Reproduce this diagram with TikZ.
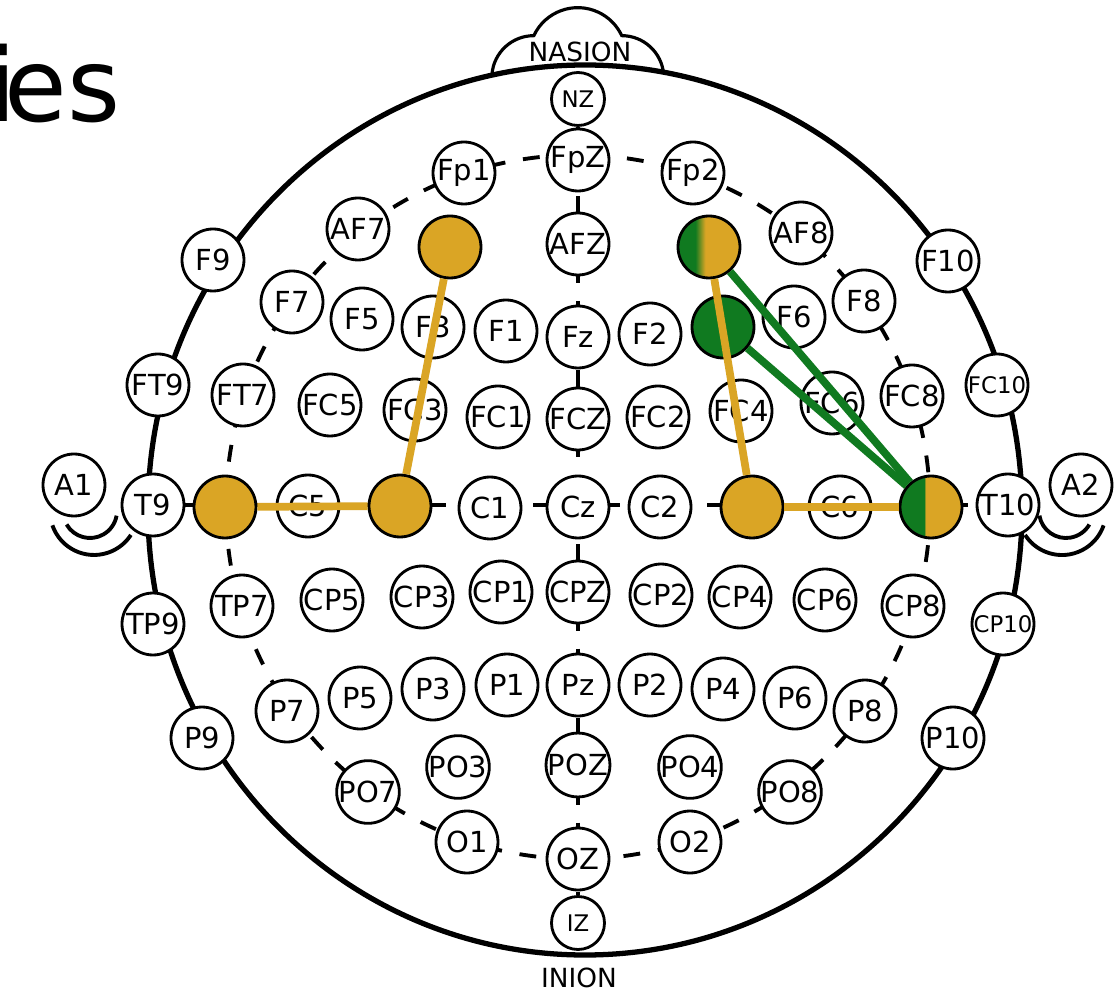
\documentclass[tikz,border=0pt]{standalone}
\usepackage{fontspec}
\setmainfont{DejaVu Sans}
\usepackage{tikz}
\usetikzlibrary{backgrounds}

\definecolor{oro}{RGB}{218,165,37}
\definecolor{verde}{RGB}{16,122,32}
% sombreados de los electrodos mixtos
\pgfdeclarehorizontalshading{verdeoro}{100bp}{color(0bp)=(verde); color(39bp)=(verde); color(47bp)=(oro); color(100bp)=(oro)}
\pgfdeclarehorizontalshading{mitad}{100bp}{color(0bp)=(verde); color(45bp)=(verde); color(45.5bp)=(oro); color(100bp)=(oro)}

\begin{document}
\begin{tikzpicture}[x=0.02cm, y=0.02cm,
	electrodo/.style={circle, draw, line width=1.6pt, fill=white, minimum size=1.24cm, inner sep=0pt, font=\fontsize{16.5}{16.5}\selectfont},
	chico/.style={electrodo, font=\fontsize{13}{13}\selectfont},
	menor/.style={chico, minimum size=1.06cm},
	activo/.style={electrodo, fill=oro},
	guia/.style={line width=2.2pt, dash pattern=on 9.6pt off 10.2pt},
	oreja/.style={line width=2.2pt},
	enlace/.style={line width=4.4pt}]
		
		% Fondo y marco
		\useasboundingbox (-578,-490) rectangle (537,507);
		\begin{scope}[on background layer]
			\fill[white] (-578,-490) rectangle (537,507);
		\end{scope}
		\node[anchor=base east, inner sep=0pt, font=\fontsize{58}{58}\selectfont] (titulo) at (-457,385) {i\kern-0.12em es};
		
		% Dibujar la cabeza
		\draw[line width=3pt] (7,-3) ellipse [x radius=437, y radius=445];
		\draw[line width=1.8pt] (-86,433) arc[start angle=175, end angle=90, radius=42]
			arc[start angle=155, end angle=25, radius=48.5] arc[start angle=90, end angle=5, radius=42];
		\node[font=\fontsize{15}{15}\selectfont] (nasion) at (2,455) {NASION};
		\node[font=\fontsize{15}{15}\selectfont] (inion) at (1,-471) {INION};
		
		% Orejas
		\draw[oreja] (-511.4,-17.5) arc[start angle=210, end angle=350, radius=27];
		\draw[oreja] (-525.6,-18.3) arc[start angle=199, end angle=327, radius=44];
		\draw[oreja] (461.4,-8.7) arc[start angle=190, end angle=330, radius=27];
		\draw[oreja] (447.1,-28) arc[start angle=213, end angle=341, radius=44];
		
		% Circulo interior
		\draw[guia] (0,0) circle [radius=352];
		
		% Electrodos
		\node[menor] (NZ) at (0,408) {NZ};
		\node[electrodo] (FpZ) at (0,347) {FpZ};
		\node[electrodo] (Fp1) at (-114,334) {Fp1};
		\node[electrodo] (Fp2) at (115,334) {Fp2};
		\node[electrodo] (AF7) at (-220,278) {AF7};
		\node[electrodo] (AF8) at (223,274) {AF8};
		\node[activo] (AF3) at (-128,260) {};
		\node[electrodo] (AFZ) at (0,263) {AFZ};
		\node[electrodo, shade, shading=verdeoro] (AF4) at (131,260) {};
		
		\node[electrodo] (F9) at (-365,247) {F9};
		\node[electrodo] (F10) at (370,246) {F10};
		\node[electrodo] (F7) at (-286,205) {F7};
		\node[electrodo] (F8) at (286,206) {F8};
		\node[electrodo] (F5) at (-216,188) {F5};
		\node[electrodo] (F3) at (-145,180) {F3};
		\node[electrodo] (F1) at (-72,176) {F1};
		\node[electrodo] (Fz) at (0,170) {Fz};
		\node[electrodo] (F2) at (72,173) {F2};
		\node[electrodo, fill=verde] (F4) at (145,180) {};
		\node[electrodo] (F6) at (216,190) {F6};
		
		\node[electrodo] (FT9) at (-420,122) {FT9};
		\node[electrodo] (FT7) at (-335,112) {FT7};
		\node[electrodo] (FC5) at (-248,102) {FC5};
		\node[electrodo] (FC3) at (-163,97) {FC3};
		\node[electrodo] (FC1) at (-80,90) {FC1};
		\node[electrodo] (FCZ) at (0,88) {FCZ};
		\node[electrodo] (FC2) at (80,90) {FC2};
		\node[electrodo] (FC4) at (163,96) {FC4};
		\node[electrodo] (FC6) at (254,104) {FC6};
		\node[electrodo] (FC8) at (334,111) {FC8};
		\node[chico] (FC10) at (419,122) {FC10};
		
		\node[electrodo] (A1) at (-504,22) {A1};
		\node[electrodo] (T9) at (-425,2) {T9};
		\node[activo] (T7) at (-353,0) {};
		\node[electrodo] (C5) at (-270,1) {C5};
		\node[activo] (C3) at (-178,1) {};
		\node[electrodo] (C1) at (-88,-1) {C1};
		\node[electrodo] (Cz) at (0,0) {Cz};
		\node[electrodo] (C2) at (82,0) {C2};
		\node[activo] (C4) at (174,0) {};
		\node[electrodo] (C6) at (262,0) {C6};
		\node[electrodo, shade, shading=mitad] (T8) at (353,0) {};
		\node[electrodo] (T10) at (430,2) {T10};
		\node[electrodo] (A2) at (503,22) {A2};
		
		\node[electrodo] (TP9) at (-425,-117) {TP9};
		\node[electrodo] (TP7) at (-336,-99) {TP7};
		\node[electrodo] (CP5) at (-246,-93) {CP5};
		\node[electrodo] (CP3) at (-156,-90) {CP3};
		\node[electrodo] (CP1) at (-77,-85) {CP1};
		\node[electrodo] (CPZ) at (0,-85) {CPZ};
		\node[electrodo] (CP2) at (83,-88) {CP2};
		\node[electrodo] (CP4) at (162,-90) {CP4};
		\node[electrodo] (CP6) at (247,-93) {CP6};
		\node[electrodo] (CP8) at (335,-99) {CP8};
		\node[chico] (CP10) at (425,-117) {CP10};
		
		\node[electrodo] (P9) at (-376,-231) {P9};
		\node[electrodo] (P7) at (-291,-204) {P7};
		\node[electrodo] (P5) at (-218,-191) {P5};
		\node[electrodo] (P3) at (-145,-182) {P3};
		\node[electrodo] (P1) at (-71,-178) {P1};
		\node[electrodo] (Pz) at (0,-178) {Pz};
		\node[electrodo] (P2) at (72,-178) {P2};
		\node[electrodo] (P4) at (145,-182) {P4};
		\node[electrodo] (P6) at (217,-191) {P6};
		\node[electrodo] (P8) at (287,-204) {P8};
		\node[electrodo] (P10) at (375,-231) {P10};
		
		\node[electrodo] (PO7) at (-210,-285) {PO7};
		\node[electrodo] (PO3) at (-120,-260) {PO3};
		\node[electrodo] (POZ) at (0,-258) {POZ};
		\node[electrodo] (PO4) at (112,-260) {PO4};
		\node[electrodo] (PO8) at (212,-285) {PO8};
		\node[electrodo] (O1) at (-111,-335) {O1};
		\node[electrodo] (OZ) at (0,-352) {OZ};
		\node[electrodo] (O2) at (112,-335) {O2};
		\node[menor] (IZ) at (0,-416) {IZ};
		
		% Lineas guia por debajo
		\begin{scope}[on background layer]
			\draw[guia] (NZ) -- (IZ);
			\draw[guia] (T9) -- (T10);
		\end{scope}
		
		% Conexiones
		\draw[enlace, oro] (AF3) -- (C3);
		\draw[enlace, oro] (C3) -- (T7);
		\draw[enlace, oro] (AF4) -- (C4);
		\draw[enlace, oro] (C4) -- (T8);
		\draw[enlace, verde] (AF4) -- (T8);
		\draw[enlace, verde] (F4) -- (T8);
	\end{tikzpicture}
\end{document}
